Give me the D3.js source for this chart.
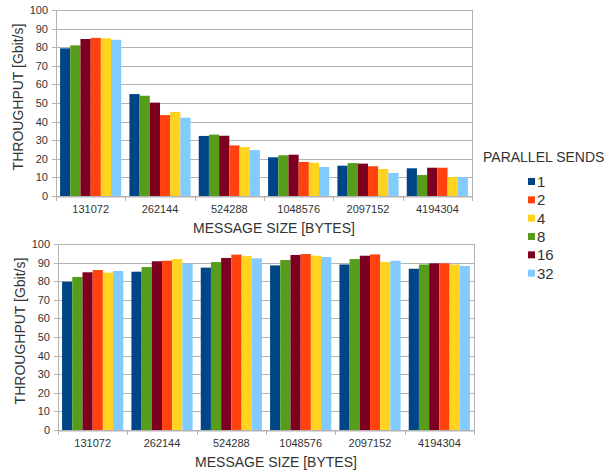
<!DOCTYPE html>
<html>
<head>
<meta charset="utf-8">
<script src="https://cdn.jsdelivr.net/npm/d3@7"></script>
<style>
  body { margin: 0; background: #fff; }
  text { font-family: "Liberation Sans", Arial, sans-serif; }
</style>
</head>
<body>
<div id="chart"></div>
<script>
// Chart data
var categories = ["131072", "262144", "524288", "1048576", "2097152", "4194304"];

// series in the order the bars appear inside each group
var barOrder = ["1", "8", "16", "2", "4", "32"];
// legend order
var legendOrder = ["1", "2", "4", "8", "16", "32"];

var colors = {
  "1": "#004586",
  "2": "#ff420e",
  "4": "#ffd320",
  "8": "#579d1c",
  "16": "#7e0021",
  "32": "#83caff"
};

// upper chart, values per series (one per category)
var topValues = {
  "1":  [79.4, 54.8, 32.3, 20.8, 16.3, 14.9],
  "8":  [81.0, 53.9, 33.0, 21.9, 17.7, 11.3],
  "16": [84.4, 50.2, 32.4, 22.2, 17.4, 15.2],
  "2":  [85.0, 43.5, 27.2, 18.3, 16.0, 15.2],
  "4":  [84.8, 45.2, 26.3, 17.9, 14.5, 10.2],
  "32": [84.0, 42.1, 24.7, 15.6, 12.4, 10.2]
};

// lower chart
var bottomValues = {
  "1":  [79.7, 85.1, 87.3, 88.5, 89.0, 86.7],
  "8":  [82.3, 87.6, 90.3, 91.4, 91.9, 89.0],
  "16": [84.8, 90.7, 92.5, 94.1, 93.7, 89.6],
  "2":  [86.0, 91.0, 94.3, 94.6, 94.4, 89.6],
  "4":  [84.6, 91.9, 93.5, 93.7, 90.3, 89.0],
  "32": [85.5, 89.4, 92.3, 93.0, 91.0, 88.2]
};

var yTicks = [0, 10, 20, 30, 40, 50, 60, 70, 80, 90, 100];

var svgWidth = 606;
var svgHeight = 476;

var svg = d3.select("#chart")
  .append("svg")
  .attr("width", svgWidth)
  .attr("height", svgHeight);

var gridColor = "#b3b3b3";
var textColor = "#333333";

function drawChart(values, box) {
  var g = svg.append("g");

  var xScale = d3.scaleBand()
    .domain(categories)
    .range([box.left, box.right])
    .padding(0);

  var xInner = d3.scaleBand()
    .domain(barOrder)
    .range([0, xScale.bandwidth()])
    .paddingOuter(0.4)
    .paddingInner(0);

  var yScale = d3.scaleLinear()
    .domain([0, 100])
    .range([box.bottom, box.top]);

  // horizontal grid
  g.append("g")
    .selectAll("line")
    .data(yTicks)
    .enter()
    .append("line")
    .attr("x1", box.left - 4)
    .attr("x2", box.right)
    .attr("y1", d => Math.round(yScale(d)) + 0.5)
    .attr("y2", d => Math.round(yScale(d)) + 0.5)
    .attr("stroke", gridColor)
    .attr("stroke-width", 1);

  // y axis labels
  var leftAxis = d3.axisLeft(yScale)
    .tickValues(yTicks)
    .tickSize(0)
    .tickPadding(8);

  var yAxisG = g.append("g")
    .attr("transform", `translate(${box.left}, 0)`)
    .call(leftAxis);
  yAxisG.select(".domain").attr("stroke", gridColor);
  yAxisG.selectAll("text")
    .style("font-size", "11px")
    .attr("fill", textColor);

  // right border
  g.append("line")
    .attr("x1", box.right + 0.5)
    .attr("x2", box.right + 0.5)
    .attr("y1", box.top)
    .attr("y2", box.bottom + 5)
    .attr("stroke", gridColor);

  // bars
  barOrder.forEach(function(s) {
    g.append("g")
      .selectAll("rect")
      .data(values[s])
      .enter()
      .append("rect")
      .attr("x", (d, i) => xScale(categories[i]) + xInner(s))
      .attr("y", d => yScale(d))
      .attr("width", xInner.bandwidth())
      .attr("height", d => box.bottom - yScale(d))
      .attr("fill", colors[s]);
  });

  // x axis
  var bottomAxis = d3.axisBottom(xScale)
    .tickSize(0)
    .tickPadding(9);

  var xAxisG = g.append("g")
    .attr("transform", `translate(0, ${box.bottom + 0.5})`)
    .call(bottomAxis);
  xAxisG.select(".domain").attr("stroke", gridColor);
  xAxisG.selectAll("text")
    .style("font-size", "11px")
    .attr("fill", textColor);

  // category separators
  var bounds = categories.map(c => xScale(c)).concat([box.right]);
  g.append("g")
    .selectAll("line")
    .data(bounds)
    .enter()
    .append("line")
    .attr("x1", d => Math.round(d) + 0.5)
    .attr("x2", d => Math.round(d) + 0.5)
    .attr("y1", box.bottom)
    .attr("y2", box.bottom + 5)
    .attr("stroke", gridColor);

  // axis titles
  g.append("text")
    .attr("transform", `translate(${box.left - 38}, ${(box.top + box.bottom) / 2 - 6}) rotate(-90)`)
    .attr("text-anchor", "middle")
    .attr("dy", "0.35em")
    .style("font-size", "14px")
    .attr("fill", textColor)
    .text("THROUGHPUT [Gbit/s]");

  g.append("text")
    .attr("x", (box.left + box.right) / 2 + 10)
    .attr("y", box.bottom + 37)
    .attr("text-anchor", "middle")
    .style("font-size", "14px")
    .attr("fill", textColor)
    .text("MESSAGE SIZE [BYTES]");
}

drawChart(topValues, { left: 56, right: 472, top: 10, bottom: 196 });
drawChart(bottomValues, { left: 58, right: 474, top: 244, bottom: 430 });

// legend
var legend = svg.append("g");

legend.append("text")
  .attr("x", 483)
  .attr("y", 162)
  .style("font-size", "14px")
  .attr("fill", textColor)
  .text("PARALLEL SENDS");

var legendY = d3.scaleBand()
  .domain(legendOrder)
  .range([173, 283]);

var items = legend.selectAll(".item")
  .data(legendOrder)
  .enter()
  .append("g")
  .attr("class", "item")
  .attr("transform", d => `translate(528, ${legendY(d)})`);

items.append("rect")
  .attr("x", 0)
  .attr("y", 5)
  .attr("width", 7)
  .attr("height", 7)
  .attr("fill", d => colors[d]);

items.append("text")
  .attr("x", 9)
  .attr("y", 14)
  .style("font-size", "15px")
  .attr("fill", textColor)
  .text(d => d);
</script>
</body>
</html>
